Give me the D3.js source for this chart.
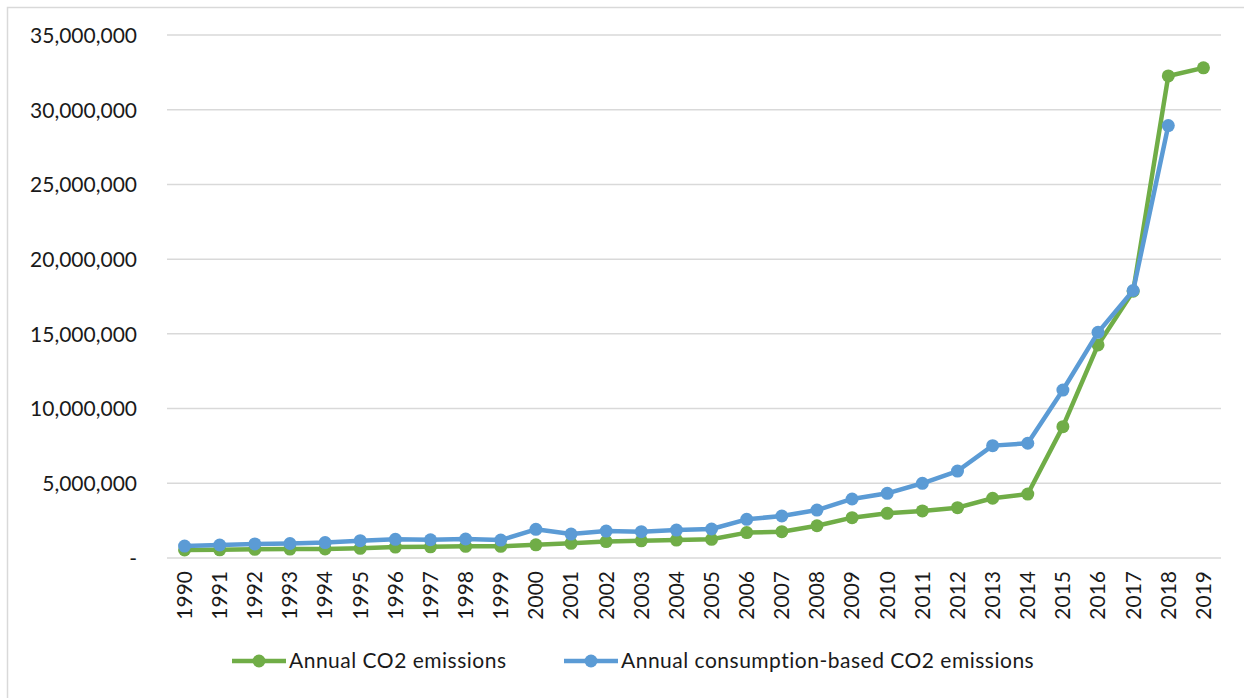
<!DOCTYPE html>
<html>
<head>
<meta charset="utf-8">
<script src="https://cdn.jsdelivr.net/npm/d3@7"></script>
<style>
  html, body { margin: 0; padding: 0; background: #fff; }
  svg { display: block; font-family: Lato, "Open Sans", sans-serif; }
</style>
</head>
<body>
<svg id="chart" width="1244" height="698"></svg>
<script>
// Years on the category axis
const years = [1990, 1991, 1992, 1993, 1994, 1995, 1996, 1997, 1998, 1999,
  2000, 2001, 2002, 2003, 2004, 2005, 2006, 2007, 2008, 2009,
  2010, 2011, 2012, 2013, 2014, 2015, 2016, 2017, 2018, 2019];

// Annual CO2 emissions (tonnes)
const annualCO2 = [540000, 550000, 580000, 600000, 610000, 650000, 730000, 750000, 780000, 780000,
  880000, 980000, 1100000, 1150000, 1200000, 1250000, 1700000, 1760000, 2160000, 2700000,
  2990000, 3150000, 3370000, 4000000, 4280000, 8790000, 14260000, 17850000, 32260000, 32800000];

// Annual consumption-based CO2 emissions (tonnes); no figure for 2019
const consumptionCO2 = [800000, 870000, 940000, 970000, 1030000, 1160000, 1250000, 1220000, 1270000, 1200000,
  1920000, 1600000, 1800000, 1760000, 1870000, 1940000, 2590000, 2810000, 3210000, 3950000,
  4330000, 5000000, 5820000, 7520000, 7680000, 11240000, 15100000, 17900000, 28940000, null];

const yTicks = [0, 5000000, 10000000, 15000000, 20000000, 25000000, 30000000, 35000000];

const seriesNames = ["Annual CO2 emissions", "Annual consumption-based CO2 emissions"];
const seriesColors = ["#70AD47", "#5B9BD5"];

const textColor = "#1a1a1a";
const fontSize = 21;

const svg = d3.select("#chart");

// Outer chart frame
svg.append("rect")
  .attr("x", 7.5).attr("y", 7.5)
  .attr("width", 1250).attr("height", 700)
  .attr("fill", "none").attr("stroke", "#d9d9d9").attr("stroke-width", 1.5);

const plot = { left: 167, right: 1221, top: 35, bottom: 558 };

const x = d3.scaleBand()
  .domain(years)
  .range([plot.left, plot.right]);

const y = d3.scaleLinear()
  .domain([0, 35000000])
  .range([plot.bottom, plot.top]);

// Horizontal gridlines
svg.append("g")
  .selectAll("line")
  .data(yTicks)
  .join("line")
  .attr("x1", plot.left).attr("x2", plot.right)
  .attr("y1", d => y(d)).attr("y2", d => y(d))
  .attr("stroke", "#d9d9d9").attr("stroke-width", 1.5);

// Y axis labels
const fmt = d3.format(",");
const yAxis = d3.axisLeft(y)
  .tickValues(yTicks)
  .tickSize(0)
  .tickPadding(0)
  .tickFormat(d => d === 0 ? "-" : fmt(d));
svg.append("g")
  .attr("transform", `translate(${plot.left - 30},0)`)
  .call(yAxis)
  .call(g => g.select(".domain").remove())
  .selectAll("text")
  .attr("font-family", "Lato, 'Open Sans', sans-serif")
  .attr("font-size", fontSize)
  .attr("fill", textColor)
  .attr("dy", "0.35em");

// X axis labels, rotated
const xAxis = d3.axisBottom(x).tickSize(0).tickPadding(0);
svg.append("g")
  .attr("transform", `translate(0,${plot.bottom})`)
  .call(xAxis)
  .call(g => g.select(".domain").remove())
  .selectAll("text")
  .attr("font-family", "Lato, 'Open Sans', sans-serif")
  .attr("font-size", fontSize)
  .attr("fill", textColor)
  .attr("text-anchor", "end")
  .attr("transform", "rotate(-90)")
  .attr("x", -13)
  .attr("y", 0)
  .attr("dy", "0.35em");

const cx = d => x(d) + x.bandwidth() / 2;

const series = [annualCO2, consumptionCO2];

series.forEach((vals, i) => {
  const pts = years.map((yr, j) => ({ yr, v: vals[j] })).filter(p => p.v != null);
  const line = d3.line().x(p => cx(p.yr)).y(p => y(p.v));
  const g = svg.append("g");
  g.append("path")
    .datum(pts)
    .attr("d", line)
    .attr("fill", "none")
    .attr("stroke", seriesColors[i])
    .attr("stroke-width", 4.5)
    .attr("stroke-linejoin", "round");
  g.selectAll("circle")
    .data(pts)
    .join("circle")
    .attr("cx", p => cx(p.yr))
    .attr("cy", p => y(p.v))
    .attr("r", 6.5)
    .attr("fill", seriesColors[i]);
});

// Legend
const legendItems = [
  { name: seriesNames[0], color: seriesColors[0], x: 232 },
  { name: seriesNames[1], color: seriesColors[1], x: 564 }
];
const legendY = 661;
const lg = svg.append("g");
legendItems.forEach(item => {
  lg.append("line")
    .attr("x1", item.x).attr("x2", item.x + 54)
    .attr("y1", legendY).attr("y2", legendY)
    .attr("stroke", item.color).attr("stroke-width", 4.5);
  lg.append("circle")
    .attr("cx", item.x + 27).attr("cy", legendY).attr("r", 6.5)
    .attr("fill", item.color);
  lg.append("text")
    .attr("x", item.x + 57).attr("y", legendY)
    .attr("dy", "0.35em")
    .attr("font-size", fontSize)
    .attr("letter-spacing", 0.5)
    .attr("fill", textColor)
    .text(item.name);
});
</script>
</body>
</html>
